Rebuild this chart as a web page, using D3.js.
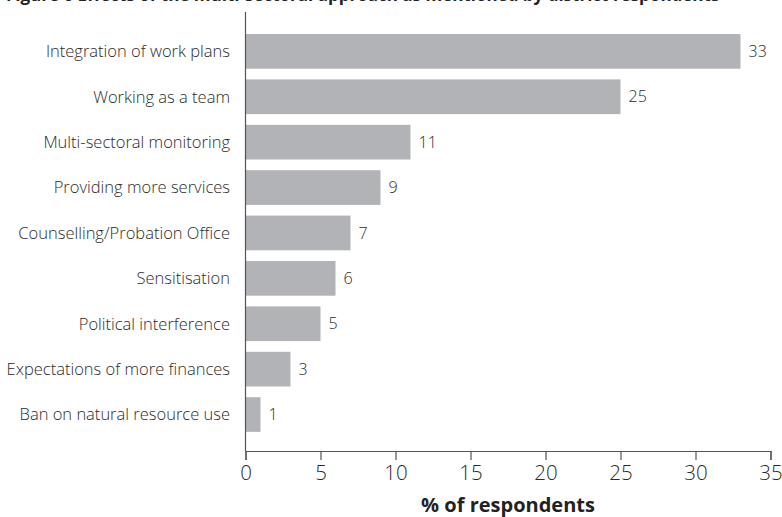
<!DOCTYPE html>
<html>
<head>
<meta charset="utf-8">
<script src="https://cdn.jsdelivr.net/npm/d3@7"></script>
<style>
  html, body { margin: 0; padding: 0; background: #fff; }
  svg { display: block; }
  text { font-family: "Open Sans", "Noto Sans", sans-serif; }
</style>
</head>
<body>
<svg id="chart" width="782" height="517"></svg>
<script>
// Effects reported, share of respondents (%)
const categories = [
  "Integration of work plans",
  "Working as a team",
  "Multi-sectoral monitoring",
  "Providing more services",
  "Counselling/Probation Office",
  "Sensitisation",
  "Political interference",
  "Expectations of more finances",
  "Ban on natural resource use"
];
const values = [33, 25, 11, 9, 7, 6, 5, 3, 1];
const xTicks = [0, 5, 10, 15, 20, 25, 30, 35];
const titleText = "Figure 6  Effects of the multi-sectoral approach as mentioned by district respondents";
const xAxisTitle = "% of respondents";

const svg = d3.select("#chart");
const axisColor = "#555";
const textColor = "#2b2b2b";
const barColor = "#b2b3b7";

// Chart title (runs off the top edge of the page)
svg.append("text")
  .attr("x", 6)
  .attr("y", 0.5)
  .attr("font-size", 17)
  .attr("font-weight", 700)
  .attr("fill", "#222")
  .text(titleText);

const x = d3.scaleLinear().domain([0, 35]).range([245.5, 770.5]);
const y = d3.scaleBand()
  .domain(categories)
  .range([20.4, 445.5])
  .paddingInner(0.236)
  .paddingOuter(0.3);

// Bars
svg.append("g").selectAll("rect")
  .data(values)
  .join("rect")
  .attr("x", x(0))
  .attr("y", (d, i) => y(categories[i]))
  .attr("width", d => x(d) - x(0))
  .attr("height", y.bandwidth())
  .attr("fill", barColor);

// Value labels
svg.append("g").selectAll("text")
  .data(values)
  .join("text")
  .attr("x", d => x(d) + 8)
  .attr("y", (d, i) => y(categories[i]) + y.bandwidth() / 2)
  .attr("dy", "0.35em")
  .attr("font-size", 16)
  .attr("font-weight", 300)
  .attr("fill", textColor)
  .text(d => d);

// Category labels
svg.append("g").selectAll("text")
  .data(categories)
  .join("text")
  .attr("x", 230)
  .attr("y", d => y(d) + y.bandwidth() / 2)
  .attr("dy", "0.35em")
  .attr("text-anchor", "end")
  .attr("font-size", 16.5)
  .attr("font-weight", 300)
  .attr("fill", textColor)
  .text(d => d);

// Vertical axis line
svg.append("line")
  .attr("x1", x(0)).attr("x2", x(0))
  .attr("y1", 12).attr("y2", 451)
  .attr("stroke", axisColor)
  .attr("stroke-width", 1.2);

// Horizontal axis
const xAxis = svg.append("g")
  .attr("transform", "translate(0,451)")
  .call(d3.axisBottom(x).tickValues(xTicks).tickSize(9).tickPadding(5).tickFormat(d3.format("d")));
xAxis.select(".domain").attr("stroke", axisColor).attr("stroke-width", 1.2);
xAxis.selectAll(".tick line").attr("stroke", axisColor).attr("stroke-width", 1.2);
xAxis.selectAll(".tick text")
  .attr("font-family", "'Open Sans', sans-serif")
  .attr("font-size", 20.5)
  .attr("font-weight", 300)
  .attr("fill", textColor);

// Axis title
svg.append("text")
  .attr("x", (x(0) + x(35)) / 2)
  .attr("y", 512)
  .attr("text-anchor", "middle")
  .attr("font-size", 20)
  .attr("font-weight", 700)
  .attr("fill", "#222")
  .text(xAxisTitle);
</script>
</body>
</html>
